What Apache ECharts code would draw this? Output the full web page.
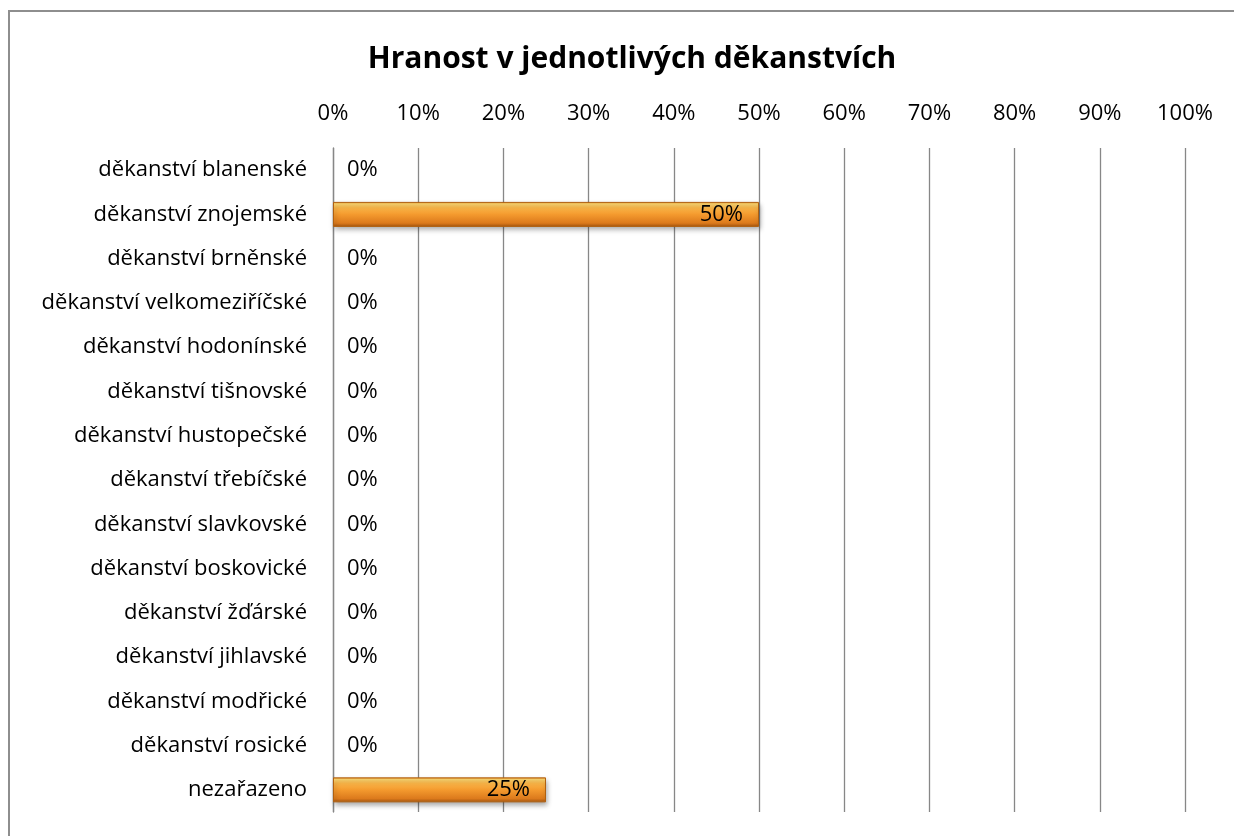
<!DOCTYPE html>
<html>
<head>
<meta charset="utf-8">
<script src="https://cdn.jsdelivr.net/npm/echarts@6/dist/echarts.min.js"></script>
<style>
  html, body { margin: 0; padding: 0; background: #fff; }
  #chart { width: 1234px; height: 836px; }
</style>
</head>
<body>
<div id="chart"></div>
<script>
// Deaneries (listed top to bottom) and their share in percent
const categories = [
  'děkanství blanenské',
  'děkanství znojemské',
  'děkanství brněnské',
  'děkanství velkomeziříčské',
  'děkanství hodonínské',
  'děkanství tišnovské',
  'děkanství hustopečské',
  'děkanství třebíčské',
  'děkanství slavkovské',
  'děkanství boskovické',
  'děkanství žďárské',
  'děkanství jihlavské',
  'děkanství modřické',
  'děkanství rosické',
  'nezařazeno'
];
const shares = [0, 50, 0, 0, 0, 0, 0, 0, 0, 0, 0, 0, 0, 0, 25];
const titleText = 'Hranost v jednotlivých děkanstvích';

const FONT = '"Open Sans", sans-serif';

// Glossy orange fill for the bars
const barFill = new echarts.graphic.LinearGradient(0, 0, 0, 1, [
  { offset: 0, color: '#ee8a1c' },
  { offset: 0.08, color: '#fcd670' },
  { offset: 0.25, color: '#fab447' },
  { offset: 0.5, color: '#f49a2e' },
  { offset: 0.85, color: '#dc7a1c' },
  { offset: 1, color: '#a35510' }
]);

const seriesData = shares.map(v => ({
  value: v,
  itemStyle: v > 0 ? {} : { borderWidth: 0, shadowBlur: 0, shadowOffsetY: 0, shadowOffsetX: 0 },
  label: v > 0
    ? { position: 'insideRight', distance: 16 }
    : { position: 'right', distance: 14 }
}));

const chart = echarts.init(document.getElementById('chart'), null, { renderer: 'canvas' });
chart.setOption({
  backgroundColor: '#ffffff',
  animation: false,
  title: {
    text: titleText,
    left: 627,
    textAlign: 'center',
    top: 39,
    textStyle: { fontFamily: FONT, fontSize: 30, fontWeight: 'bold', color: '#000' }
  },
  graphic: [{
    type: 'rect',
    shape: { x: 9, y: 11, width: 1240, height: 840 },
    style: { fill: 'none', stroke: '#8e8e8e', lineWidth: 2 },
    z: -1
  }],
  grid: { left: 333, right: 49, top: 148, bottom: 24 },
  xAxis: {
    type: 'value',
    position: 'top',
    min: 0,
    max: 100,
    interval: 10,
    axisLine: { show: false },
    axisTick: { show: false },
    splitLine: { show: true, lineStyle: { color: '#878787', width: 1.3 } },
    axisLabel: {
      formatter: '{value}%',
      fontFamily: FONT,
      fontSize: 22,
      color: '#000',
      margin: 23
    }
  },
  yAxis: {
    type: 'category',
    inverse: true,
    data: categories,
    axisLine: { show: true, lineStyle: { color: '#878787', width: 1.3 } },
    axisTick: { show: false },
    axisLabel: { fontFamily: FONT, fontSize: 22, color: '#000', margin: 26, padding: [6, 0, 0, 0] }
  },
  series: [{
    type: 'bar',
    data: seriesData,
    barWidth: 25,
    itemStyle: {
      color: barFill,
      borderColor: '#b0600f',
      borderWidth: 1,
      shadowColor: 'rgba(0,0,0,0.35)',
      shadowBlur: 5,
      shadowOffsetY: 3,
      shadowOffsetX: 1
    },
    label: {
      show: true,
      formatter: p => p.value + '%',
      fontFamily: FONT,
      fontSize: 22,
      color: '#000',
      padding: [6, 0, 0, 0]
    }
  }]
});
</script>
</body>
</html>
